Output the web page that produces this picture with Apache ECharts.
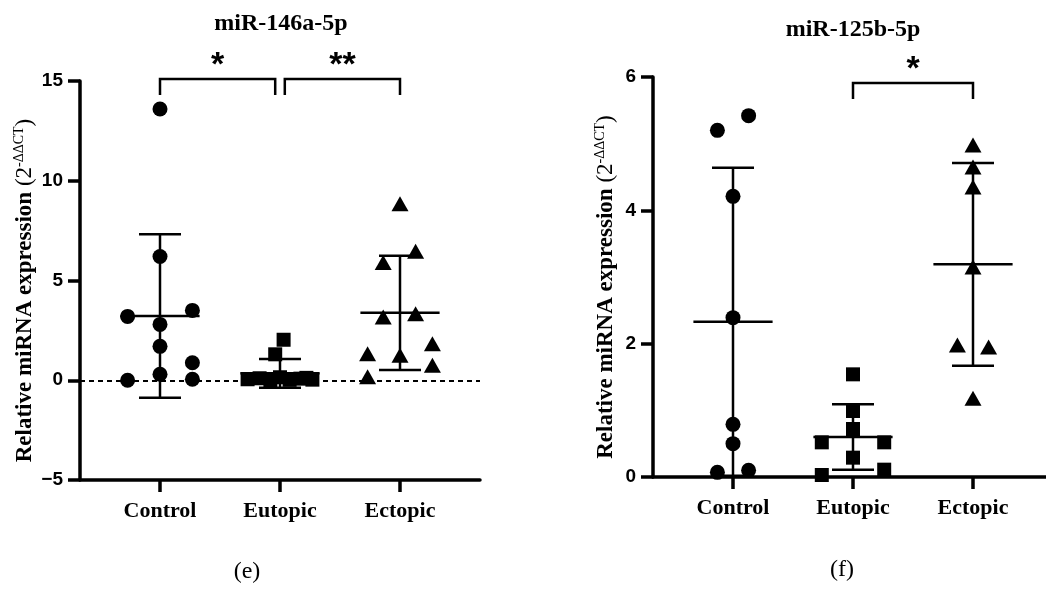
<!DOCTYPE html>
<html>
<head>
<meta charset="utf-8">
<script src="https://cdn.jsdelivr.net/npm/echarts@6/dist/echarts.min.js"></script>
<style>
  html, body { margin: 0; padding: 0; background: #fff; }
  #main { width: 1046px; height: 590px; }
</style>
</head>
<body>
<div id="main"></div>
<script>
const groups = ['Control', 'Eutopic', 'Ectopic']

// (e) miR-146a-5p
const eControl = [13.6, 6.2, 3.2, 3.5, 2.8, 1.7, 0.88, 0.3, 0.0, 0.05]
const eControlJit = [0, 0, -0.27, 0.27, 0, 0, 0.27, 0, -0.27, 0.27]
const eEutopic = [2.03, 1.3, 0.05, 0.1, 0.0, 0.15, 0.02, 0.08, 0.03, 0.12]
const eEutopicJit = [0.03, -0.04, -0.27, -0.17, -0.08, 0.0, 0.08, 0.17, 0.27, 0.22]
const eEctopic = [8.85, 6.47, 5.9, 3.17, 3.33, 1.33, 1.25, 1.83, 0.75, 0.17]
const eEctopicJit = [0, 0.13, -0.14, -0.14, 0.13, -0.27, 0, 0.27, 0.27, -0.27]
const eMean = [3.22, 0.35, 3.38]
const eSd = [4.1, 0.72, 2.86]
const eBrackets = [[1, 1.96, 15.1, 14.3, 16.0], [2.04, 3, 15.1, 14.3, 16.0]]
const eStars = ['*', '**']

// (f) miR-125b-5p
const fControl = [5.2, 5.42, 4.21, 2.39, 0.79, 0.5, 0.07, 0.1]
const fControlJit = [-0.13, 0.13, 0, 0, 0, 0, -0.13, 0.13]
const fEutopic = [1.54, 0.99, 0.72, 0.52, 0.52, 0.29, 0.03, 0.11]
const fEutopicJit = [0, 0, 0, -0.26, 0.26, 0, -0.26, 0.26]
const fEctopic = [4.98, 4.65, 4.35, 3.15, 1.98, 1.95, 1.18]
const fEctopicJit = [0, 0, 0, 0, -0.13, 0.13, 0]
const fMean = [2.33, 0.6, 3.19]
const fSd = [2.31, 0.49, 1.52]
const fBrackets = [[2, 3, 5.91, 5.67, 6.18]]
const fStars = ['*']

const serif = 'Liberation Serif'
const sans = 'Liberation Sans'

function pts(vals, jit, g) {
  return vals.map((v, i) => [g + 1 + jit[i], v])
}

function meanSdItem(params, api) {
  const x = api.value(0), m = api.value(1), sd = api.value(2)
  const c = api.coord([x, m])
  const top = api.coord([x, m + sd])
  const bot = api.coord([x, m - sd])
  const w = api.size([0.33, 0])[0]
  const cw = api.size([0.175, 0])[0]
  const style = { stroke: '#000', lineWidth: 2.5 }
  return {
    type: 'group',
    children: [
      { type: 'line', shape: { x1: c[0] - w, y1: c[1], x2: c[0] + w, y2: c[1] }, style },
      { type: 'line', shape: { x1: top[0], y1: top[1], x2: bot[0], y2: bot[1] }, style },
      { type: 'line', shape: { x1: top[0] - cw, y1: top[1], x2: top[0] + cw, y2: top[1] }, style },
      { type: 'line', shape: { x1: bot[0] - cw, y1: bot[1], x2: bot[0] + cw, y2: bot[1] }, style }
    ]
  }
}

function bracketRender(stars) {
  return function (params, api) {
    const a = api.coord([api.value(0), api.value(2)])
    const b = api.coord([api.value(1), api.value(2)])
    const a2 = api.coord([api.value(0), api.value(3)])
    const b2 = api.coord([api.value(1), api.value(3)])
    const s = api.coord([(api.value(0) + api.value(1)) / 2, api.value(4)])
    return {
      type: 'group',
      children: [
        { type: 'polyline', shape: { points: [a2, a, b, b2] }, style: { stroke: '#000', lineWidth: 2.5, fill: null } },
        { type: 'text', x: s[0], y: s[1] + 5, style: {
          text: stars[params.dataIndex], fill: '#000', font: 'bold 34px ' + sans,
          textAlign: 'center', textVerticalAlign: 'middle' } }
      ]
    }
  }
}

function yName() {
  return {
    name: '{b|Relative miRNA expression }{r|(2}{s|-ΔΔCT}{r|)}',
    nameLocation: 'middle',
    nameRotate: 90,
    nameTextStyle: {
      padding: [0, 20, 0, 0],
      rich: {
        b: { fontFamily: serif, fontWeight: 'bold', fontSize: 23, color: '#000', lineHeight: 26 },
        r: { fontFamily: serif, fontSize: 23, color: '#000', lineHeight: 26 },
        s: { fontFamily: serif, fontSize: 14, color: '#000', verticalAlign: 'top', lineHeight: 15 }
      }
    }
  }
}

const axisLineStyle = { color: '#000', width: 3.5 }

function xAxis(gi, max) {
  return {
    type: 'value', gridIndex: gi, min: 1 / 3, max: max,
    axisLine: { show: true, onZero: false, lineStyle: axisLineStyle },
    axisTick: { show: true, length: 12, lineStyle: axisLineStyle, customValues: [1, 2, 3] },
    axisLabel: {
      customValues: [1, 2, 3], formatter: v => groups[Math.round(v) - 1],
      fontFamily: serif, fontWeight: 'bold', fontSize: 22, color: '#000', margin: 20
    },
    splitLine: { show: false }
  }
}

function yAxis(gi, min, max, interval, gap) {
  return Object.assign(yName(), {
    type: 'value', gridIndex: gi, min, max, interval, nameGap: gap,
    axisLine: { show: true, lineStyle: axisLineStyle },
    axisTick: { show: true, length: 12, lineStyle: axisLineStyle },
    axisLabel: { fontFamily: sans, fontWeight: 'bold', fontSize: 19, color: '#000', margin: 17,
      formatter: v => v < 0 ? '\u2212' + Math.abs(v) : String(v) },
    splitLine: { show: false }
  })
}

function scatter(data, symbol, size, gi) {
  return {
    type: 'scatter', xAxisIndex: gi, yAxisIndex: gi, data, symbol, symbolSize: size,
    itemStyle: { color: '#000', opacity: 1 }, z: 3, silent: true
  }
}

const chart = echarts.init(document.getElementById('main'))
chart.setOption({
  animation: false,
  backgroundColor: '#fff',
  grid: [
    { left: 80, top: 81, width: 400, height: 399 },
    { left: 653, top: 77, width: 393, height: 400 }
  ],
  xAxis: [xAxis(0, 1 / 3 + 400 / 120), xAxis(1, 1 / 3 + 393 / 120)],
  yAxis: [yAxis(0, -5, 15, 5, 42), yAxis(1, 0, 6, 2, 34)],
  series: [
    {
      type: 'line', xAxisIndex: 0, yAxisIndex: 0, data: [], z: 1,
      markLine: {
        silent: true, symbol: 'none', label: { show: false },
        lineStyle: { color: '#000', width: 2, type: [5, 4] },
        data: [{ yAxis: 0 }]
      }
    },
    scatter(pts(eControl, eControlJit, 0), 'circle', 15, 0),
    scatter(pts(eEutopic, eEutopicJit, 1), 'rect', 14, 0),
    scatter(pts(eEctopic, eEctopicJit, 2), 'triangle', [17, 15], 0),
    {
      type: 'custom', xAxisIndex: 0, yAxisIndex: 0, renderItem: meanSdItem, z: 4, silent: true,
      data: eMean.map((m, i) => [i + 1, m, eSd[i]])
    },
    {
      type: 'custom', xAxisIndex: 0, yAxisIndex: 0, renderItem: bracketRender(eStars), clip: false, silent: true,
      data: eBrackets
    },
    scatter(pts(fControl, fControlJit, 0), 'circle', 15, 1),
    scatter(pts(fEutopic, fEutopicJit, 1), 'rect', 14, 1),
    scatter(pts(fEctopic, fEctopicJit, 2), 'triangle', [17, 15], 1),
    {
      type: 'custom', xAxisIndex: 1, yAxisIndex: 1, renderItem: meanSdItem, z: 4, silent: true,
      data: fMean.map((m, i) => [i + 1, m, fSd[i]])
    },
    {
      type: 'custom', xAxisIndex: 1, yAxisIndex: 1, renderItem: bracketRender(fStars), clip: false, silent: true,
      data: fBrackets
    }
  ],
  graphic: [
    { type: 'text', x: 281, y: 24, style: { text: 'miR-146a-5p', font: 'bold 24px ' + serif, fill: '#000', textAlign: 'center', textVerticalAlign: 'middle' } },
    { type: 'text', x: 853, y: 30, style: { text: 'miR-125b-5p', font: 'bold 24px ' + serif, fill: '#000', textAlign: 'center', textVerticalAlign: 'middle' } },
    { type: 'text', x: 247, y: 572, style: { text: '(e)', font: '24px ' + serif, fill: '#000', textAlign: 'center', textVerticalAlign: 'middle' } },
    { type: 'text', x: 842, y: 570, style: { text: '(f)', font: '24px ' + serif, fill: '#000', textAlign: 'center', textVerticalAlign: 'middle' } }
  ]
})
</script>
</body>
</html>
